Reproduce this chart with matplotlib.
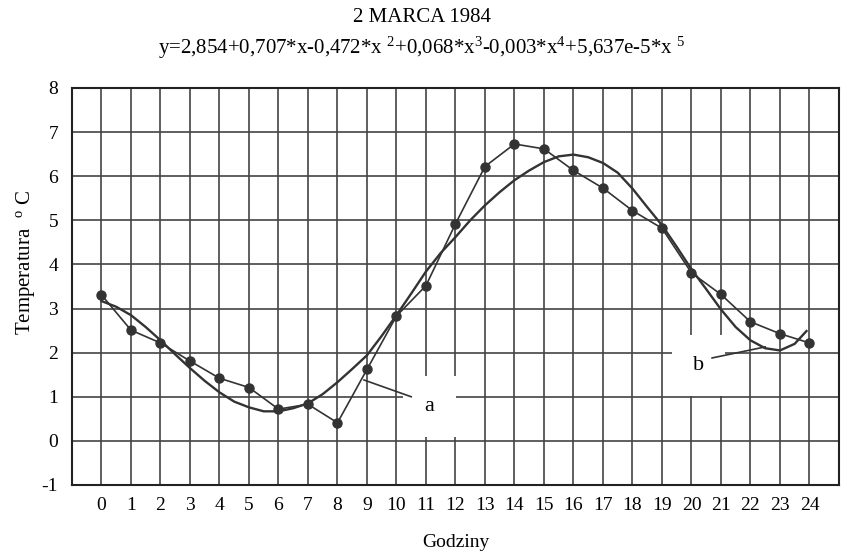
import numpy as np
import matplotlib
matplotlib.use("Agg")
from matplotlib import pyplot as plt

plt.rcParams['font.family'] = ['Liberation Serif', 'DejaVu Serif']
plt.rcParams['mathtext.fontset'] = 'custom'
plt.rcParams['mathtext.rm'] = 'Liberation Serif'
plt.rcParams['mathtext.it'] = 'Liberation Serif:italic'
plt.rcParams['axes.unicode_minus'] = False

# godziny i pomiary
hours = list(range(0, 25))
temp = [3.31, 2.51, 2.22, 1.81, 1.42, 1.21, 0.72, 0.83, 0.41, 1.62, 2.83, 3.52, 4.92,
        6.22, 6.73, 6.62, 6.13, 5.73, 5.22, 4.82, 3.81, 3.32, 2.70, 2.43, 2.22]
fit_hours = [0, 0.5, 1, 1.5, 2, 2.5, 3, 3.5, 4, 4.5, 5, 5.5, 6, 6.5, 7, 7.5, 8, 8.5,
             9, 9.5, 10, 10.5, 11, 11.5, 12, 12.5, 13, 13.5, 14, 14.5, 15, 15.5, 16,
             16.5, 17, 17.5, 18, 18.5, 19, 19.5, 20, 20.5, 21, 21.5, 22, 22.5, 23,
             23.5, 23.9]
fit = [3.17, 3.04, 2.85, 2.58, 2.28, 1.96, 1.65, 1.36, 1.10, 0.89, 0.76, 0.67, 0.67,
       0.74, 0.85, 1.06, 1.33, 1.63, 1.94, 2.38, 2.85, 3.34, 3.84, 4.26, 4.62, 5.00,
       5.34, 5.64, 5.91, 6.13, 6.32, 6.45, 6.49, 6.43, 6.30, 6.08, 5.72, 5.30, 4.89,
       4.40, 3.89, 3.44, 2.98, 2.58, 2.28, 2.10, 2.05, 2.20, 2.49]
yticks = list(range(-1, 9))

fig = plt.figure(figsize=(8.44, 5.52), dpi=100)
ax = fig.add_axes([0.0853, 0.1214, 0.9087, 0.7192])

col = '#333333'
ax.plot(fit_hours, fit, color=col, lw=1.7, zorder=3)
ax.plot(hours, temp, color=col, lw=1.2, marker='o', ms=6.5, zorder=4)

ax.set_xlim(-1, 25)
ax.set_ylim(-1, 8)
ax.set_xticks(hours)
ax.set_yticks(yticks)
ax.grid(True, color='#444444', lw=1.2)
ax.set_axisbelow(True)
ax.tick_params(length=0, labelsize=14, pad=9)
ax.tick_params(axis='y', pad=10)
for s in ax.spines.values():
    s.set_color('#222222')
    s.set_linewidth(1.5)

# opisy krzywych
ax.text(11.12, 0.78, 'a', fontsize=16, ha='center', va='center', zorder=1.5,
        bbox=dict(boxstyle='square,pad=0.95', fc='white', ec='none'))
ax.plot([8.9, 10.5], [1.38, 1.0], color=col, lw=1.2, zorder=3)
ax.text(20.25, 1.7, 'b', fontsize=16, ha='center', va='center', zorder=1.5,
        bbox=dict(boxstyle='square,pad=0.95', fc='white', ec='none'))
ax.plot([20.7, 22.5], [1.88, 2.13], color=col, lw=1.2, zorder=3)

ax.set_xlabel('Godziny', fontsize=14, labelpad=14)
ax.set_ylabel(r'Temperatura  $^{\mathrm{o}}$ C', fontsize=15)
ax.yaxis.set_label_coords(-0.046, 0.56)

fig.text(0.5, 0.969, '2 MARCA 1984', ha='center', va='center', fontsize=15)
fig.text(0.5, 0.913, r'y=2,854+0,707*x-0,472*x $^{2}$+0,068*x$^{3}$-0,003*x$^{4}$+5,637e-5*x $^{5}$',
         ha='center', va='center', fontsize=15)

fig.savefig('out.png', dpi=100)
